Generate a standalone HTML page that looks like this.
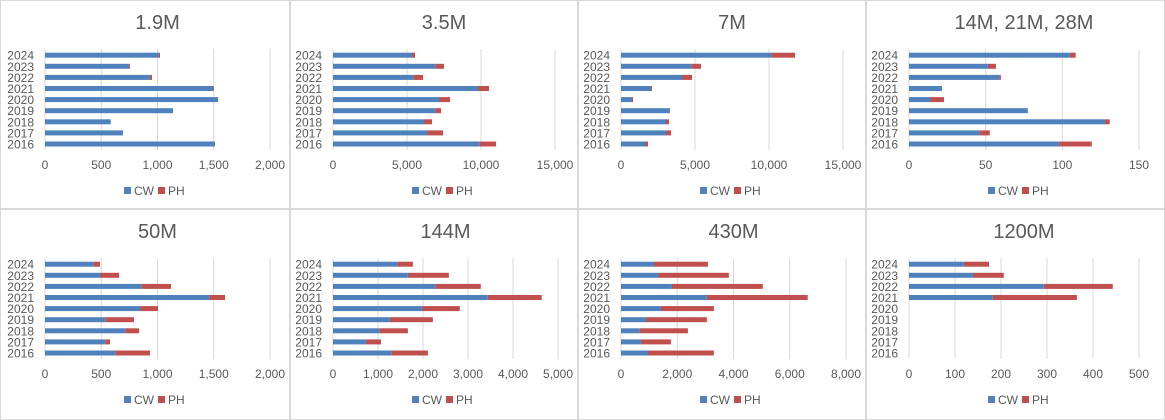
<!DOCTYPE html>
<html><head><meta charset="utf-8"><style>
html,body{margin:0;padding:0;background:#fff;}
svg{display:block;font-family:"Liberation Sans",sans-serif;}
</style></head><body>
<svg id="chart" width="1165" height="420" viewBox="0 0 1165 420" xmlns="http://www.w3.org/2000/svg"></svg>
<script>
const years = ["2016","2017","2018","2019","2020","2021","2022","2023","2024"];
const titles = ["1.9M","3.5M","7M","14M, 21M, 28M","50M","144M","430M","1200M"];
const axisMax = [2000,15000,15000,150,2000,5000,8000,500];
const tickStep = [500,5000,5000,50,500,1000,2000,100];
// CW and PH values per panel, order 2016..2024
const cw1 = [1511,693,584,1138,1538,1496,933,747,1013];
const ph1 = [0,0,0,0,0,6,18,8,9];
const cw2 = [9887,6351,6149,6914,7162,9797,5428,6914,5337];
const ph2 = [1127,1081,540,383,743,744,653,586,203];
const cw3 = [1622,3041,3041,3266,743,2027,4122,4752,10158];
const ph3 = [202,337,202,45,68,68,675,653,1599];
const cw4 = [97.9,45.8,127.8,77.5,13.7,21.5,58.8,51.4,104.8];
const ph4 = [21.3,6.9,3.1,0,9.1,0,1.1,5.3,3.9];
const cw5 = [625,536,714,536,844,1461,856,489,430];
const ph5 = [308,42,122,255,160,139,264,169,59];
const cw6 = [1294,732,1028,1265,1975,3439,2271,1664,1428];
const ph6 = [814,333,636,954,843,1199,1013,910,347];
const cw7 = [959,710,651,888,1420,3053,1811,1314,1172];
const ph7 = [2343,1065,1728,2165,1882,3586,3230,2520,1917];
const cw8 = [0,0,0,0,0,182,293,139,119];
const ph8 = [0,0,0,0,0,183,150,67,55];
const cwAll = [cw1,cw2,cw3,cw4,cw5,cw6,cw7,cw8];
const phAll = [ph1,ph2,ph3,ph4,ph5,ph6,ph7,ph8];

const NS = "http://www.w3.org/2000/svg";
const svg = document.getElementById("chart");
function mk(tag, attrs, parent){
  const e = document.createElementNS(NS, tag);
  for (const k in attrs) e.setAttribute(k, attrs[k]);
  (parent||svg).appendChild(e);
  return e;
}
const colX = [0,290,578,866];
const colW = [289,287,287,298];
const rowY = [0,209];
const plotL = [45,43,43,43];
const plotR = [[270,265,265,273],[270,268,268,273]];

for (let p = 0; p < 8; p++) {
  const col = p % 4, row = Math.floor(p / 4);
  const ox = colX[col], oy = rowY[row];
  const g = mk("g", {});
  
  
  const border = mk("rect", {x: ox+0.5, y: oy+0.5, width: colW[col], height: row===0?208:210, fill:"none", stroke:"#d9d9d9", "stroke-width":1}, g);
  
  
  const t = mk("text", {x: ox + (plotL[col] + plotR[row][col]) / 2 + (col===0?0:0), y: oy + 29, "text-anchor":"middle", "font-size":20, fill:"#595959"}, g);
  t.textContent = titles[p];
  
  
  const x0 = ox + plotL[col], x1 = ox + plotR[row][col];
  const xs = v => x0 + (v / axisMax[p]) * (x1 - x0);
  for (let v = 0; v <= axisMax[p] + 1e-9; v += tickStep[p]) {
    const gl = mk("line", {x1: xs(v), x2: xs(v), y1: oy + 49, y2: oy + 150, stroke:"#d9d9d9", "stroke-width":1}, g);
    
    
    const tl = mk("text", {x: xs(v), y: oy + 169, "text-anchor":"middle", "font-size":12, fill:"#595959"}, g);
    tl.textContent = v.toLocaleString("en-US");
    
    
  }
  const cw = cwAll[p], ph = phAll[p];
  for (let i = 0; i < years.length; i++) {
    const cy = oy + 144 - i * 11.1;
    const yl = mk("text", {x: x0 - 11, y: cy + 4.5, "text-anchor":"end", "font-size":12, fill:"#595959"}, g);
    yl.textContent = years[i];
    
    
    if (cw[i] > 0) {
      const b = mk("rect", {x: xs(0), y: cy - 2.5, width: xs(cw[i]) - xs(0), height: 5, fill:"#4f81bd"}, g);
      
      
    }
    if (ph[i] > 0) {
      const b2 = mk("rect", {x: xs(cw[i]), y: cy - 2.5, width: xs(cw[i] + ph[i]) - xs(cw[i]), height: 5, fill:"#c0504d"}, g);
      
      
    }
  }
  const lx = ox + (col === 0 ? 124 : 122) + (col===3?0:0);
  const ly = oy + 191;
  const s1 = mk("rect", {x: lx, y: ly - 4, width: 7, height: 7, fill:"#4f81bd"}, g);
  
  
  const t1 = mk("text", {x: lx + 10, y: ly + 4, "font-size":12, fill:"#595959"}, g);
  t1.textContent = "CW";
  
  
  const s2 = mk("rect", {x: lx + 34, y: ly - 4, width: 7, height: 7, fill:"#c0504d"}, g);
  
  
  const t2 = mk("text", {x: lx + 44, y: ly + 4, "font-size":12, fill:"#595959"}, g);
  t2.textContent = "PH";
  
  
}
</script>
</body></html>
